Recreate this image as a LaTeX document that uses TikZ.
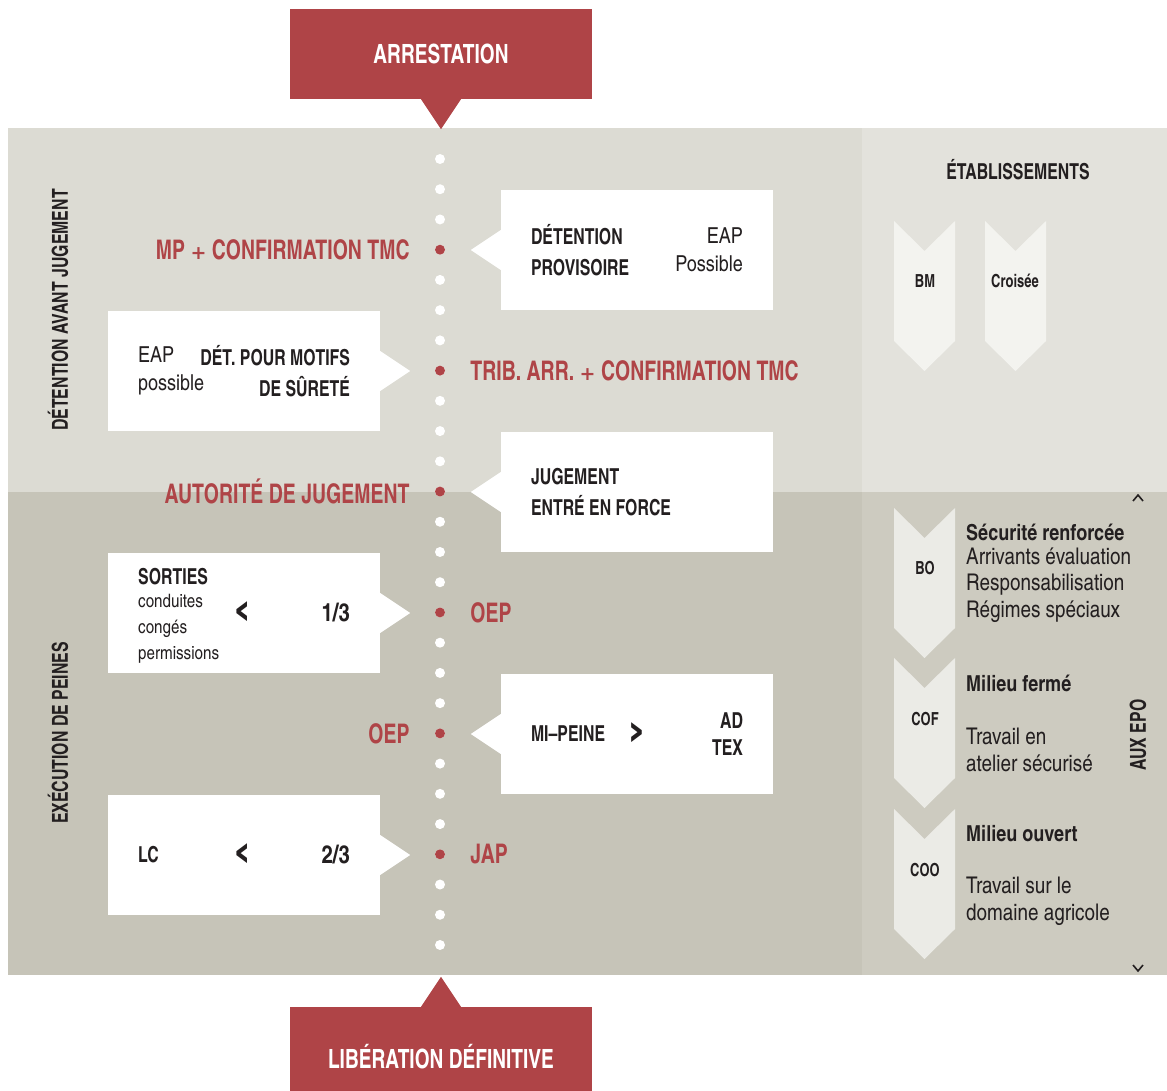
\documentclass[tikz,border=0pt]{standalone}
\usepackage{fontspec}
\setmainfont{texgyreheroscn}[Extension    = .otf,
                             UprightFont  = *-regular,
                             BoldFont     = *-bold]
\newfontfamily\condfont{texgyreheroscn}[Extension   = .otf,
                                        UprightFont = *-bold,
                                        FakeStretch = 0.88]
\newfontfamily\symfont{DejaVu Sans Bold}
\newcommand{\plus}{{\fontsize{19}{20}\symfont +}}
\usetikzlibrary{positioning}
\definecolor{rouge}{HTML}{AF4447}
\definecolor{encre}{HTML}{231F20}
\definecolor{greyA}{HTML}{DCDBD3}
\definecolor{greyB}{HTML}{E3E2DC}
\definecolor{greyC}{HTML}{C6C4B8}
\definecolor{greyD}{HTML}{CDCBC0}
\definecolor{chevA}{HTML}{F3F3EF}
\definecolor{chevB}{HTML}{EBEBE6}

\begin{document}
\begin{tikzpicture}[x = 1pt, y = -1pt, node distance = 25pt]
  \useasboundingbox (0,0) rectangle (1167,1090);
  \tikzset{TitleStyle/.style  = {fill           = rouge,
                                 text           = white,
                                 inner sep      = 0pt,
                                 minimum width  = 302pt,
                                 font           = \fontsize{26.5}{30}\condfont}}
  \tikzset{BoxStyle/.style    = {fill           = white,
                                 inner sep      = 0pt,
                                 minimum width  = 272pt,
                                 minimum height = 120pt}}
  \tikzset{DotStyle/.style    = {shape          = circle,
                                 fill           = white,
                                 inner sep      = 0pt,
                                 minimum size   = 10pt}}
  \tikzset{StepStyle/.style   = {DotStyle,
                                 fill           = rouge}}
  \tikzset{RedStyle/.style    = {text           = rouge,
                                 inner sep      = 0pt,
                                 font           = \fontsize{27}{29}\condfont}}
  \tikzset{CapsStyle/.style   = {text           = encre,
                                 inner sep      = 0pt,
                                 font           = \fontsize{22}{31}\condfont}}
  \tikzset{BoldStyle/.style   = {text           = encre,
                                 inner sep      = 0pt,
                                 font           = \fontsize{22}{27}\selectfont\bfseries}}
  \tikzset{PlainStyle/.style  = {text           = encre,
                                 inner sep      = 0pt,
                                 font           = \fontsize{22}{28}\selectfont}}
  \tikzset{PanelStyle/.style  = {text           = encre,
                                 inner sep      = 0pt,
                                 font           = \fontsize{23}{26.8}\selectfont}}
  \tikzset{SmallStyle/.style  = {text           = encre,
                                 inner sep      = 0pt,
                                 font           = \fontsize{18.5}{26}\selectfont}}
  \tikzset{TagStyle/.style    = {text           = encre,
                                 inner sep      = 0pt,
                                 font           = \fontsize{18}{20}\condfont}}
  \tikzset{SignStyle/.style   = {text           = encre,
                                 inner sep      = 0pt,
                                 font           = \fontsize{44}{46}\symfont}}
  % fonds
  \fill[greyA] (8,128) rectangle (862,492);
  \fill[greyB] (862,128) rectangle (1167,492);
  \fill[greyC] (8,492) rectangle (862,975);
  \fill[greyD] (862,492) rectangle (1167,975);
  % debut et fin
  \node[TitleStyle, minimum height = 90pt] (arrest) at (441,54) {ARRESTATION};
  \fill[rouge] (arrest.south) ++(-20,0) -- ++(20,30) -- ++(20,-30) -- cycle;
  \node[TitleStyle, minimum height = 100pt] (liber) at (441,1057) {LIBÉRATION DÉFINITIVE};
  \fill[rouge] (liber.north) ++(-20,0) -- ++(20,-30) -- ++(20,30) -- cycle;
  % ligne de points
  \foreach \i in {0,...,26}
    \node[DotStyle] (d\i) at (440,159+30.23*\i) {};
  \foreach \i in {3,7,11,15,19,23}
    \node[StepStyle] (s\i) at (d\i) {};
  \node[RedStyle, left  = of s3]  (l1) {MP \plus{} CONFIRMATION TMC};
  \node[RedStyle, right = of s7]  (l2) {TRIB. ARR. \plus{} CONFIRMATION TMC};
  \node[RedStyle, left  = of s11] (l3) {AUTORITÉ DE JUGEMENT};
  \node[RedStyle, right = of s15] (l4) {OEP};
  \node[RedStyle, left  = of s19] (l5) {OEP};
  \node[RedStyle, right = of s23] (l6) {JAP};
  % boites
  \node[BoxStyle] (b1) at (637,250) {};
  \node[BoxStyle] (b2) at (244,371) {};
  \node[BoxStyle] (b3) at (637,492) {};
  \node[BoxStyle] (b4) at (244,613) {};
  \node[BoxStyle] (b5) at (637,734) {};
  \node[BoxStyle] (b6) at (244,855) {};
  \foreach \b in {b1,b3,b5}
    \fill[white] (\b.west) ++(0,-20) -- ++(-30,20) -- ++(30,20) -- cycle;
  \foreach \b in {b2,b4,b6}
    \fill[white] (\b.east) ++(0,-20) -- ++(30,20) -- ++(-30,20) -- cycle;
  \node[CapsStyle, align = left, right = 30pt of b1.west] (t1) {DÉTENTION\\PROVISOIRE};
  \node[PlainStyle, align = right, left = 30pt of b1.east] (t2) {EAP\\Possible};
  \node[PlainStyle, align = left, right = 30pt of b2.west] (t3) {EAP\\possible};
  \node[CapsStyle, align = right, left = 30pt of b2.east] (t4) {DÉT. POUR MOTIFS\\DE SÛRETÉ};
  \node[CapsStyle, align = left, right = 30pt of b3.west] (t5) {JUGEMENT\\ENTRÉ EN FORCE};
  \node[CapsStyle, anchor = west] (t6) at (138,577) {SORTIES};
  \node[SmallStyle, align = left, anchor = west] (t7) at (138,629) {conduites\\congés\\permissions};
  \node[SignStyle] (t8) at (243,613) {‹};
  \node[BoldStyle, font = \fontsize{25}{27}\selectfont\bfseries, left = 30pt of b4.east] (t9) {1/3};
  \node[CapsStyle, right = 30pt of b5.west] (t10) {MI–PEINE};
  \node[SignStyle] (t11) at (637,734) {›};
  \node[CapsStyle, align = right, left = 30pt of b5.east, font = \fontsize{22}{27}\condfont] (t12) {AD\\TEX};
  \node[CapsStyle, right = 30pt of b6.west] (t13) {LC};
  \node[SignStyle] (t14) at (243,855) {‹};
  \node[BoldStyle, font = \fontsize{25}{27}\selectfont\bfseries, left = 30pt of b6.east] (t15) {2/3};
  % phases
  \node[CapsStyle, rotate = 90] (phase1) at (58,310) {DÉTENTION AVANT JUGEMENT};
  \node[CapsStyle, rotate = 90] (phase2) at (58,733) {EXÉCUTION DE PEINES};
  % etablissements
  \node[CapsStyle] (etab) at (1018,170) {ÉTABLISSEMENTS};
  \foreach \x in {894,985}
    \fill[chevA] (\x,221) -- ++(30.5,30) -- ++(30.5,-30) -- ++(0,120) -- ++(-30.5,30) -- ++(-30.5,-30) -- cycle;
  \foreach \y in {508,658,809}
    \fill[chevB] (894,\y) -- ++(30.5,30) -- ++(30.5,-30) -- ++(0,120) -- ++(-30.5,30) -- ++(-30.5,-30) -- cycle;
  \node[TagStyle] (bm)  at (925,281)  {BM};
  \node[TagStyle] (cr)  at (1015,281) {Croisée};
  \node[TagStyle] (bo)  at (925,568)  {BO};
  \node[TagStyle] (cof) at (925,719)  {COF};
  \node[TagStyle] (coo) at (925,870)  {COO};
  \node[BoldStyle, anchor = west] (bo1)  at (966,532) {Sécurité renforcée};
  \node[PanelStyle, align = left, anchor = west] (bo2) at (966,585) {Arrivants évaluation\\Responsabilisation\\Régimes spéciaux};
  \node[BoldStyle, anchor = west] (cof1) at (966,683) {Milieu fermé};
  \node[PanelStyle, align = left, anchor = west] (cof2) at (966,750) {Travail en\\atelier sécurisé};
  \node[BoldStyle, anchor = west] (coo1) at (966,834) {Milieu ouvert};
  \node[PanelStyle, align = left, anchor = west] (coo2) at (966,901) {Travail sur le\\domaine agricole};
  \node[CapsStyle, rotate = 90] (epo) at (1138,735) {AUX EPO};
  \draw[encre, line width = 1.6pt] (1133,501) -- (1138,495) -- (1143,501);
  \draw[encre, line width = 1.6pt] (1133,965) -- (1138,971) -- (1143,965);
\end{tikzpicture}
\end{document}
